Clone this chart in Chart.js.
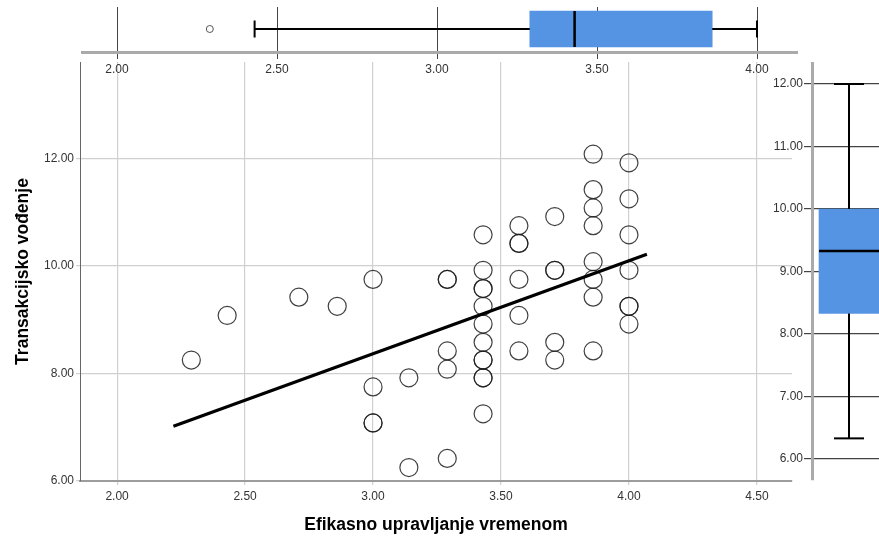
<!DOCTYPE html>
<html>
<head>
<meta charset="utf-8">
<script src="https://cdn.jsdelivr.net/npm/chart.js@4.4.1/dist/chart.umd.min.js"></script>
<style>
  html, body { margin: 0; padding: 0; background: #fff; overflow: hidden; }
  #wrap { position: relative; width: 879px; height: 539px; }
  #wrap canvas { position: absolute; left: 0; top: 0; }
</style>
</head>
<body>
<div id="wrap">
  <canvas id="mainChart" width="879" height="539"></canvas>
  <canvas id="topBox" width="879" height="539"></canvas>
  <canvas id="sideBox" width="879" height="539"></canvas>
</div>
<script>
// scatter points, x = Efikasno upravljanje vremenom, y = Transakcijsko vođenje
const effVals = [
  2.29, 2.43, 2.71, 2.86,
  3.00, 3.00, 3.00, 3.00,
  3.14, 3.14,
  3.29, 3.29, 3.29, 3.29, 3.29,
  3.43, 3.43, 3.43, 3.43, 3.43, 3.43, 3.43, 3.43, 3.43, 3.43, 3.43, 3.43,
  3.57, 3.57, 3.57, 3.57, 3.57, 3.57,
  3.71, 3.71, 3.71, 3.71, 3.71,
  3.86, 3.86, 3.86, 3.86, 3.86, 3.86, 3.86, 3.86,
  4.00, 4.00, 4.00, 4.00, 4.00, 4.00, 4.00
];
const transVals = [
  8.25, 9.08, 9.42, 9.25,
  9.75, 7.75, 7.08, 7.08,
  7.92, 6.25,
  9.75, 9.75, 8.42, 8.08, 6.42,
  10.58, 9.92, 9.58, 9.58, 9.25, 8.92, 8.58, 8.25, 8.25, 7.92, 7.92, 7.25,
  10.75, 10.42, 10.42, 9.75, 9.08, 8.42,
  10.92, 9.92, 9.92, 8.58, 8.25,
  12.08, 11.42, 11.08, 10.75, 10.08, 9.75, 9.42, 8.42,
  11.92, 11.25, 10.58, 9.92, 9.25, 9.25, 8.92
];

// fit line ends
const fitX = [2.22, 4.07];
const fitY = [7.02, 10.22];

// box plots: min, q1, median, q3, max
const effBox = [2.43, 3.29, 3.43, 3.86, 4.00];
const effOutliers = [2.29];
const transBox = [6.33, 8.33, 9.33, 10.00, 12.00];

// tick labels
const mainXTicks = [2.0, 2.5, 3.0, 3.5, 4.0, 4.5];
const mainYTicks = [6, 8, 10, 12];
const topTicks = [2.0, 2.5, 3.0, 3.5, 4.0];
const sideTicks = [6, 7, 8, 9, 10, 11, 12];

const FONT = "'Liberation Sans', Arial, sans-serif";
const boxBlue = '#5594e3';
const tickFont = { family: FONT, size: 12 };
const titleFont = { family: FONT, size: 17.5, weight: 'bold' };
const fmt = v => Number(v).toFixed(2);
const setTicks = arr => scale => { scale.ticks = arr.map(v => ({ value: v })); };

const base = {
  responsive: false,
  animation: false,
  events: [],
  plugins: { legend: { display: false }, tooltip: { enabled: false } }
};

// main scatter
new Chart(document.getElementById('mainChart'), {
  type: 'scatter',
  data: {
    datasets: [
      {
        type: 'line',
        data: fitX.map((x, i) => ({ x: x, y: fitY[i] })),
        borderColor: '#000',
        borderWidth: 3.2,
        pointRadius: 0,
        order: 0
      },
      {
        data: effVals.map((x, i) => ({ x: x, y: transVals[i] })),
        pointRadius: 9,
        pointBorderWidth: 1.2,
        pointBorderColor: 'rgba(30,30,30,0.85)',
        pointBackgroundColor: 'rgba(0,0,0,0)',
        order: 1
      }
    ]
  },
  options: {
    ...base,
    layout: { autoPadding: false, padding: { left: 0, top: 62, right: 87, bottom: 0 } },
    scales: {
      x: {
        type: 'linear', min: 1.855, max: 4.637,
        afterFit: s => { s.height = 58; },
        afterBuildTicks: setTicks(mainXTicks),
        grid: { color: '#d0d0d0', lineWidth: 1.2, tickLength: 4 },
        border: { color: '#9c9c9c', width: 2 },
        ticks: { font: tickFont, color: '#333', padding: 4, callback: fmt },
        title: {
          display: true, text: 'Efikasno upravljanje vremenom', color: '#000',
          font: titleFont, padding: { top: 0, bottom: 3.5 }
        }
      },
      y: {
        type: 'linear', min: 6, max: 13.795,
        afterFit: s => { s.width = 80; },
        afterBuildTicks: setTicks(mainYTicks),
        grid: { color: '#d0d0d0', lineWidth: 1.2, tickLength: 4 },
        border: { color: '#666', width: 1 },
        ticks: { font: tickFont, color: '#333', padding: 2, callback: fmt },
        title: {
          display: true, text: 'Transakcijsko vođenje', color: '#000',
          font: titleFont, padding: { top: 12.5, bottom: 0 }
        }
      }
    }
  }
});

// top box plot (x variable)
new Chart(document.getElementById('topBox'), {
  type: 'bar',
  data: {
    datasets: [
      {
        type: 'bar', indexAxis: 'y',
        data: [{ x: [effBox[1], effBox[3]], y: 0 }],
        backgroundColor: boxBlue, barThickness: 36, order: 5
      },
      {
        type: 'line', data: [{ x: effBox[0], y: 0 }, { x: effBox[1], y: 0 }],
        borderColor: '#000', borderWidth: 2, pointRadius: 0, order: 4
      },
      {
        type: 'line', data: [{ x: effBox[3], y: 0 }, { x: effBox[4], y: 0 }],
        borderColor: '#000', borderWidth: 2, pointRadius: 0, order: 4
      },
      {
        type: 'scatter', data: [{ x: effBox[0], y: 0 }, { x: effBox[4], y: 0 }],
        pointStyle: 'line', pointRotation: 90, pointRadius: 8.5,
        pointBorderColor: '#000', pointBorderWidth: 2, order: 3
      },
      {
        type: 'scatter', data: [{ x: effBox[2], y: 0 }],
        pointStyle: 'line', pointRotation: 90, pointRadius: 18,
        pointBorderColor: '#000', pointBorderWidth: 2.5, order: 2
      },
      {
        type: 'scatter', data: effOutliers.map(x => ({ x: x, y: 0 })),
        pointStyle: 'circle', pointRadius: 3.5,
        pointBorderColor: '#555', pointBackgroundColor: 'rgba(0,0,0,0)',
        pointBorderWidth: 1, order: 1
      }
    ]
  },
  options: {
    ...base,
    layout: { autoPadding: false, padding: { left: 82, top: 7, right: 82, bottom: 457 } },
    scales: {
      x: {
        type: 'linear', min: 1.8906, max: 4.125, offset: false,
        afterFit: s => { s.height = 30; },
        afterBuildTicks: setTicks(topTicks),
        grid: { color: '#444', lineWidth: 1, tickLength: 7, offset: false },
        border: { color: '#aaa', width: 3 },
        ticks: { font: tickFont, color: '#333', padding: 3, callback: fmt }
      },
      y: { type: 'linear', min: -23, max: 22, display: false, offset: false }
    }
  }
});

// side box plot (y variable)
new Chart(document.getElementById('sideBox'), {
  type: 'bar',
  data: {
    datasets: [
      {
        type: 'bar',
        data: [{ x: 0, y: [transBox[1], transBox[3]] }],
        backgroundColor: boxBlue, barThickness: 60, order: 5
      },
      {
        type: 'line', data: [{ x: 0, y: transBox[0] }, { x: 0, y: transBox[1] }],
        borderColor: '#000', borderWidth: 2, pointRadius: 0, order: 4
      },
      {
        type: 'line', data: [{ x: 0, y: transBox[3] }, { x: 0, y: transBox[4] }],
        borderColor: '#000', borderWidth: 2, pointRadius: 0, order: 4
      },
      {
        type: 'scatter', data: [{ x: 0, y: transBox[0] }, { x: 0, y: transBox[4] }],
        pointStyle: 'line', pointRotation: 0, pointRadius: 15,
        pointBorderColor: '#000', pointBorderWidth: 2, order: 3
      },
      {
        type: 'scatter', data: [{ x: 0, y: transBox[2] }],
        pointStyle: 'line', pointRotation: 0, pointRadius: 30,
        pointBorderColor: '#000', pointBorderWidth: 2.5, order: 2
      }
    ]
  },
  options: {
    ...base,
    layout: { autoPadding: false, padding: { left: 740, top: 63, right: 0, bottom: 59 } },
    scales: {
      x: { type: 'linear', min: -37, max: 30, display: false, offset: false, grid: { offset: false } },
      y: {
        type: 'linear', min: 5.664, max: 12.336,
        afterFit: s => { s.width = 72; },
        afterBuildTicks: setTicks(sideTicks),
        grid: { color: '#444', lineWidth: 1.2, tickLength: 8 },
        border: { color: '#aaa', width: 3 },
        ticks: { font: tickFont, color: '#333', padding: 1, callback: fmt }
      }
    }
  }
});
</script>
</body>
</html>
